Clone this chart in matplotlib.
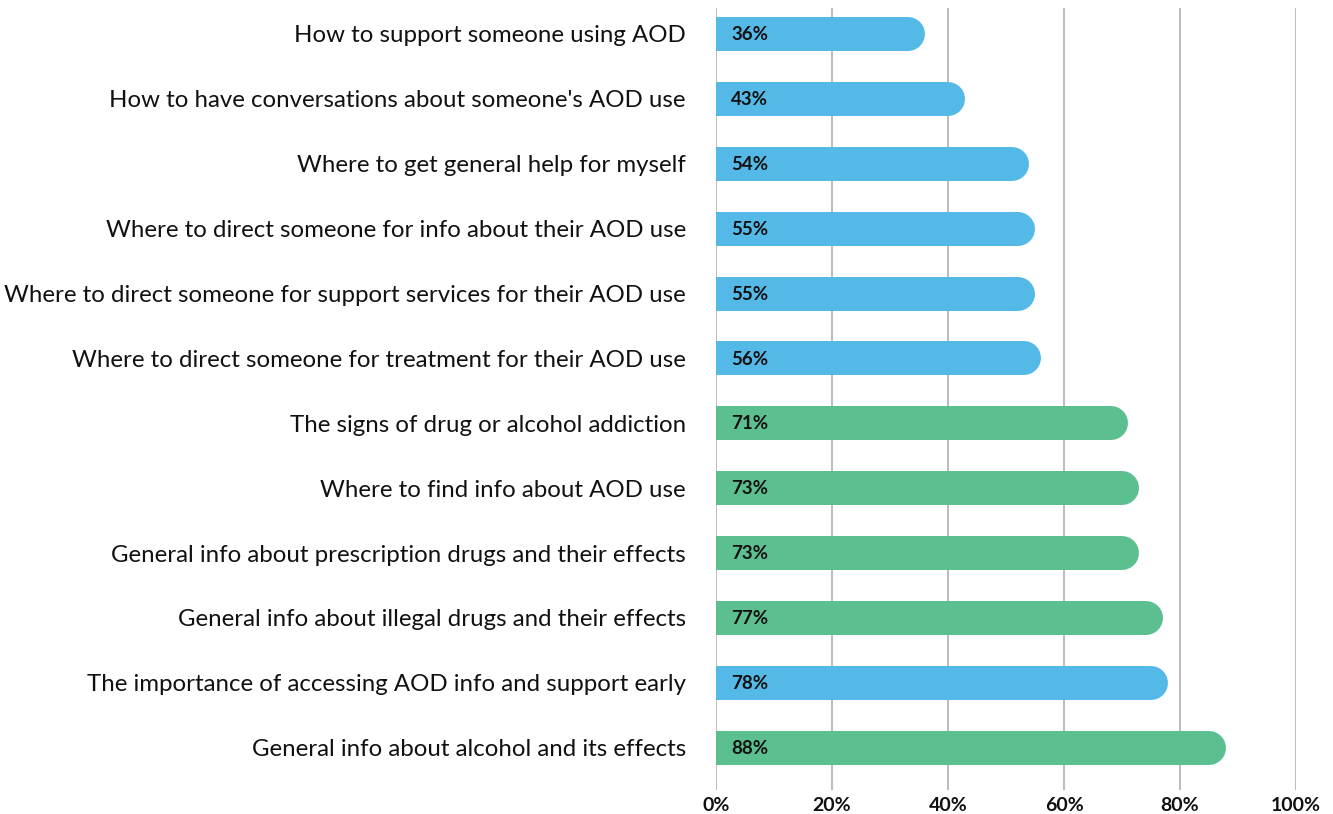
import matplotlib
matplotlib.use("Agg")
import matplotlib.pyplot as plt

plt.rcParams['font.family'] = ['Lato', 'DejaVu Sans']

# AOD information topics, top to bottom
topics = [
    "How to support someone using AOD",
    "How to have conversations about someone's AOD use",
    "Where to get general help for myself",
    "Where to direct someone for info about their AOD use",
    "Where to direct someone for support services for their AOD use",
    "Where to direct someone for treatment for their AOD use",
    "The signs of drug or alcohol addiction",
    "Where to find info about AOD use",
    "General info about prescription drugs and their effects",
    "General info about illegal drugs and their effects",
    "The importance of accessing AOD info and support early",
    "General info about alcohol and its effects",
]
pct = [36, 43, 54, 55, 55, 56, 71, 73, 73, 77, 78, 88]
group = ["b", "b", "b", "b", "b", "b", "g", "g", "g", "g", "b", "g"]

BLUE = "#55B9E8"
GREEN = "#5CBF8F"
colour = {"b": BLUE, "g": GREEN}

fig = plt.figure(figsize=(13.33, 8.14), dpi=100)
ax = fig.add_axes([716 / 1333, 1 - 790 / 814, 580 / 1333, 782 / 814])
ax.set_xlim(0, 100)
ax.set_ylim(len(topics) - 0.35, -0.4)

# bar thickness in pixels -> points for the line width
bar_px = 34
lw_pt = bar_px * 72 / fig.dpi
r_data = (bar_px / 2) / (580 / 100)  # cap radius in x units

for i, (t, v, g) in enumerate(zip(topics, pct, group)):
    # round-capped line; the left cap is clipped by the axes at x=0
    ax.plot([0, v - r_data], [i, i], color=colour[g], lw=lw_pt,
            solid_capstyle="round", zorder=3)
    ax.text(2.6, i + 0.01, f"{v}%", va="center", ha="left", fontsize=13.5,
            fontweight="bold", color="#111111", zorder=4)
    ax.text(-5.2, i + 0.03, t, va="center", ha="right", fontsize=17.3,
            color="#111111", clip_on=False)

ax.set_xticks([0, 20, 40, 60, 80, 100])
ax.set_xticklabels(["0%", "20%", "40%", "60%", "80%", "100%"],
                   fontsize=14, fontweight="bold", color="#111111")
ax.tick_params(axis="x", length=0, pad=5)
ax.set_yticks([])
ax.grid(axis="x", color="#AAAAAA", lw=1.1, zorder=0)
ax.set_axisbelow(True)
for s in ax.spines.values():
    s.set_visible(False)

fig.savefig("out.png", dpi=100)
